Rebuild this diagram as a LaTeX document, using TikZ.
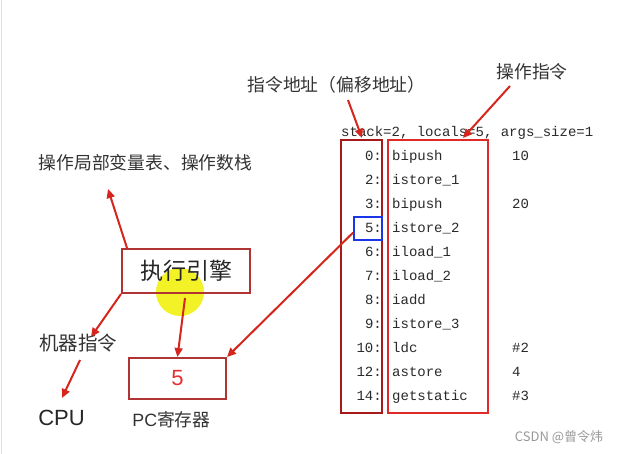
\documentclass[tikz,border=0pt]{standalone}
\usepackage{fontspec}
\setmainfont{Noto Sans CJK SC}
\newfontfamily\codefont{Liberation Mono}
\newfontfamily\latinsans{Liberation Sans}
\usetikzlibrary{arrows.meta}
\definecolor{arrred}{HTML}{D4261C}
\definecolor{addrred}{HTML}{A81A1A}
\definecolor{instred}{HTML}{E02A2A}
\definecolor{engred}{HTML}{B03434}
\definecolor{curblue}{HTML}{1A36E8}
\definecolor{labgray}{HTML}{333333}
\definecolor{codegray}{HTML}{2A2A2A}
\definecolor{fivered}{HTML}{E83030}
\definecolor{hiyellow}{HTML}{F2F000}
\begin{document}
\begin{tikzpicture}[x=1pt,y=-1pt,
  arr/.style={draw=arrred, line width=2pt, -{Triangle[length=9pt,width=8pt]}},
  lbl/.style={text=labgray, inner sep=0pt, font=\fontsize{17.8}{20}\selectfont},
  codetxt/.style={inner sep=0pt, font=\codefont\fontsize{14}{16}\selectfont, text=codegray},
]
\useasboundingbox (0,0) rectangle (624,454);
\fill[white] (0,0) rectangle (624,454);
\draw[black!12, line width=1pt] (1,0) -- (1,454);
% highlight
\fill[hiyellow, opacity=0.85] (180,292) circle (24);
% labels
\node[lbl] (addrlbl) at (336.5,85) {指令地址（偏移地址）};
\node[lbl] (oplbl) at (532,72) {操作指令};
\node[lbl] (localslbl) at (145.5,163) {操作局部变量表、操作数栈};
\node[lbl, font=\fontsize{19.5}{22}\selectfont] (machlbl) at (78,343) {机器指令};
\node[lbl, font=\latinsans\fontsize{22}{26}\selectfont, text=black!85] (cpu) at (61.5,418) {CPU};
\node[lbl] (pclbl) at (171.5,420) {{\latinsans PC}寄存器};
\node[codetxt, anchor=base west] (hdr) at (341,137) {stack=2, locals=5, args\_size=1};
% boxes
\node[draw=engred, line width=2pt, minimum width=128pt, minimum height=44pt, inner sep=0pt,
      font=\fontsize{23}{26}\selectfont, text=black!85] (engine) at (186,271) {执行引擎};
\node[draw=engred, line width=2pt, minimum width=97pt, minimum height=41pt, inner sep=0pt,
      font=\latinsans\fontsize{22}{26}\selectfont, text=fivered] (pc) at (177.5,378.5) {5};
\node[draw=addrred, line width=2pt, minimum width=41pt, minimum height=273pt, inner sep=0pt] (addrbox) at (361.5,276.5) {};
\node[draw=instred, line width=2pt, minimum width=100pt, minimum height=273pt, inner sep=0pt] (instbox) at (438,276.5) {};
\node[draw=curblue, line width=1.6pt, minimum width=28pt, minimum height=23pt, inner sep=0pt] (cur) at (368,228.5) {};
% code rows
\foreach \a/\ins/\op [count=\i from 0] in {0/bipush/10, 2/istore\_1/, 3/bipush/20, 5/istore\_2/, 6/iload\_1/, 7/iload\_2/, 8/iadd/, 9/istore\_3/, 10/ldc/\#2, 12/astore/4, 14/getstatic/\#3}{
  \pgfmathsetmacro{\yy}{161+23.9*\i}
  \node[codetxt, anchor=base east] (a\i) at (382,\yy) {\a:};
  \node[codetxt, anchor=base west] (n\i) at (392,\yy) {\ins};
  \node[codetxt, anchor=base west] (o\i) at (512,\yy) {\op};
}
% free ends
\coordinate (addrstart) at (348,100);
\coordinate (opstart) at (510,86);
\coordinate (localsend) at (108,189);
\coordinate (machend) at (91,337);
\coordinate (machstart) at (80,360);
\coordinate (cpuend) at (62,398);
% arrows
\draw[arr] (addrstart) -- ([xshift=0.5pt,yshift=1pt]addrbox.north);
\draw[arr] (opstart) -- ([xshift=25pt,yshift=1pt]instbox.north);
\draw[arr] ([xshift=6pt]engine.north west) -- (localsend);
\draw[arr] (engine.south west) -- (machend);
\draw[arr] (machstart) -- (cpuend);
\draw[arr] ([xshift=-1pt,yshift=-4pt]engine.south) -- (pc.north);
\draw[arr] ([yshift=-4pt]cur.west) -- (pc.north east);
% watermark
\node[inner sep=0pt, text=black!40, font=\fontsize{13}{15}\selectfont] (wm) at (559,437) {CSDN @曾令炜};
\end{tikzpicture}
\end{document}
